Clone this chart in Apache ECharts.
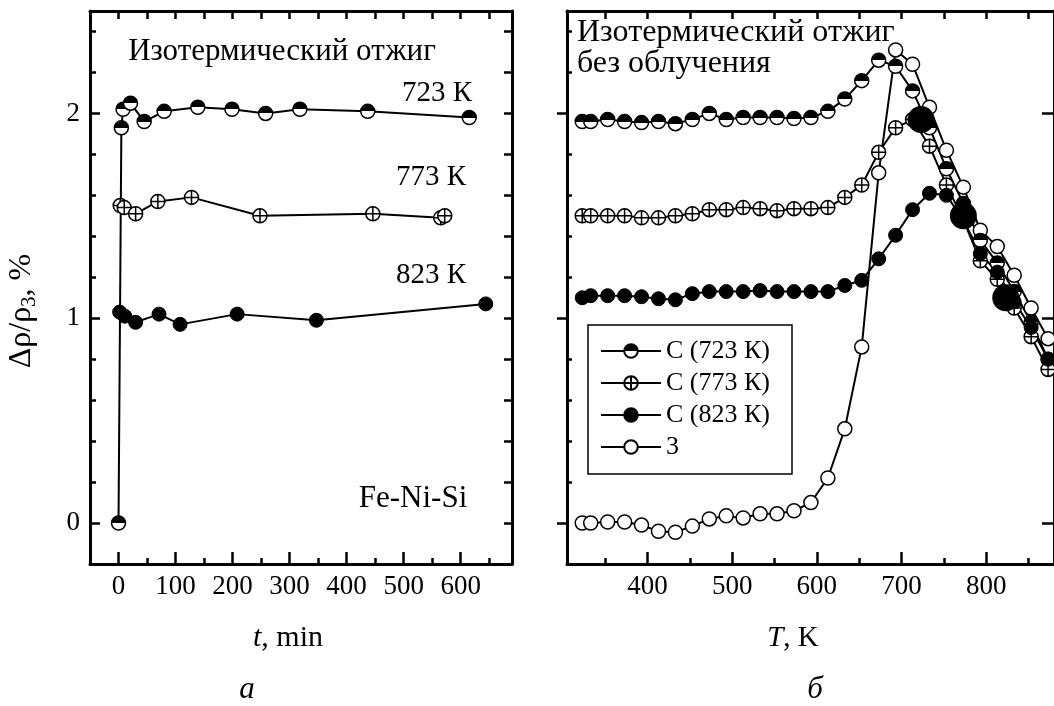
<!DOCTYPE html>
<html>
<head>
<meta charset="utf-8">
<script src="https://cdn.jsdelivr.net/npm/echarts@6/dist/echarts.min.js"></script>
<style>
  html, body { margin: 0; padding: 0; background: #fff; }
  #chart { width: 1054px; height: 706px; }
</style>
</head>
<body>
<div id="chart"></div>
<script>
// --- панель а: изотермический отжиг, t (min) ---
const time723 = [0, 5, 8, 21, 45, 80, 139, 199, 258, 318, 437, 615];
const rho723 = [0, 1.93, 2.02, 2.05, 1.96, 2.01, 2.03, 2.02, 2.0, 2.02, 2.01, 1.98];
const time773 = [3, 10, 30, 69, 128, 248, 446, 565, 572];
const rho773 = [1.55, 1.54, 1.51, 1.57, 1.59, 1.5, 1.51, 1.49, 1.5];
const time823 = [2, 11, 30, 71, 108, 208, 347, 644];
const rho823 = [1.03, 1.01, 0.98, 1.02, 0.97, 1.02, 0.99, 1.07];

// --- панель б: T (K) ---
const tempK = [323, 333, 353, 373, 393, 413, 433, 453, 473, 493, 513, 533, 553, 573, 593,
  613, 633, 653, 673, 693, 713, 733, 753, 773, 793, 813, 833, 853, 873];
const rhoC723 = [1.96, 1.96, 1.97, 1.96, 1.955, 1.96, 1.95, 1.97, 2.0, 1.97, 1.98, 1.98, 1.98, 1.975, 1.98,
  2.01, 2.07, 2.16, 2.26, 2.23, 2.11, 1.93, 1.73, 1.56, 1.38, 1.27, 1.13, 0.98, 0.8];
const rhoC773 = [1.5, 1.5, 1.5, 1.5, 1.49, 1.49, 1.5, 1.51, 1.53, 1.53, 1.54, 1.535, 1.525, 1.535, 1.535,
  1.54, 1.59, 1.65, 1.81, 1.93, 1.97, 1.84, 1.65, 1.48, 1.28, 1.19, 1.05, 0.91, 0.75];
const rhoC823 = [1.1, 1.11, 1.11, 1.11, 1.105, 1.095, 1.09, 1.12, 1.13, 1.13, 1.13, 1.135, 1.13, 1.13, 1.13,
  1.13, 1.16, 1.185, 1.29, 1.405, 1.53, 1.61, 1.6, 1.48, 1.315, 1.225, 1.08, 0.955, 0.8];
const rho3 = [0, 0, 0.005, 0.005, -0.01, -0.04, -0.045, -0.015, 0.02, 0.035, 0.025, 0.045, 0.045, 0.06, 0.1,
  0.22, 0.46, 0.86, 1.71, 2.31, 2.24, 2.03, 1.82, 1.64, 1.43, 1.35, 1.21, 1.05, 0.9];
// температуры отжига (большие точки)
const annealT = [723, 773, 823];
const annealRho = [1.97, 1.5, 1.1];

// ticks
const tMajor = [0, 100, 200, 300, 400, 500, 600];
const tMinor = [50, 150, 250, 350, 450, 550, 650];
const tTop = [0, 50, 100, 150, 200, 250, 300, 350, 400, 450, 500, 550, 600, 650];
const TMajor = [400, 500, 600, 700, 800];
const TMinor = [350, 450, 550, 650, 750, 850];
const TTop = [350, 400, 450, 500, 550, 600, 650, 700, 750, 800, 850];
const yMajor = [0, 1, 2];
const yMinor = [0.2, 0.4, 0.6, 0.8, 1.2, 1.4, 1.6, 1.8, 2.2, 2.4];
const yAll = yMajor.concat(yMinor);

const FONT = "'Liberation Serif', 'Times New Roman', serif";

const chart = echarts.init(document.getElementById("chart"));

function pts(xs, ys) {
  return xs.map((x, i) => [x, ys[i]]);
}

// one axis; everything off unless asked
function axis(o) {
  const a = {
    type: "value",
    gridIndex: o.grid,
    position: o.pos,
    min: o.min,
    max: o.max,
    splitLine: { show: false },
    axisLine: {
      show: !!o.line,
      onZero: false,
      lineStyle: { color: "#000", width: 3 },
    },
    axisTick: {
      show: !!o.ticks,
      inside: o.inside !== false,
      length: o.len || 8,
      customValues: o.ticks,
      lineStyle: { color: "#000", width: 2.5 },
    },
    axisLabel: { show: false },
  };
  if (o.labels) {
    a.axisLabel = {
      show: true,
      customValues: o.labels,
      margin: o.margin || 10,
      color: "#000",
      fontFamily: FONT,
      fontSize: 27,
    };
  }
  return a;
}

const halfFill = {
  type: "linear", x: 0, y: 0, x2: 0, y2: 1,
  colorStops: [
    { offset: 0, color: "#000" },
    { offset: 0.5, color: "#000" },
    { offset: 0.5, color: "#fff" },
    { offset: 1, color: "#fff" },
  ],
};
const crossPath = "path://M10,0A10,10,0,1,1,10,20A10,10,0,1,1,10,0ZM0,10L20,10M10,0L10,20";

const marks = {
  half: { symbol: "circle", itemStyle: { color: halfFill, borderColor: "#000", borderWidth: 1.5 } },
  cross: { symbol: crossPath, itemStyle: { color: "#fff", borderColor: "#000", borderWidth: 1.5 } },
  full: { symbol: "circle", itemStyle: { color: "#000", borderColor: "#000", borderWidth: 1 } },
  open: { symbol: "circle", itemStyle: { color: "#fff", borderColor: "#000", borderWidth: 1.5 } },
};

function line(name, data, mark, xi, yi) {
  return {
    name: name,
    type: "line",
    xAxisIndex: xi,
    yAxisIndex: yi,
    data: data,
    symbol: marks[mark].symbol,
    symbolSize: 14,
    showSymbol: true,
    itemStyle: marks[mark].itemStyle,
    lineStyle: { color: "#000", width: 2 },
    emphasis: { disabled: true },
    animation: false,
  };
}

function txt(x, y, text, size, align) {
  return {
    type: "text",
    x: x,
    y: y,
    silent: true,
    style: {
      text: text,
      fill: "#000",
      fontFamily: FONT,
      fontSize: size,
      align: align || "center",
      verticalAlign: "middle",
      rich: { i: { fontStyle: "italic", fontFamily: FONT, fontSize: size } },
    },
  };
}

const gridL = { left: 90, top: 11, width: 422, height: 553 };
const gridR = { left: 567, top: 11, right: -2, height: 553 };

const option = {
  animation: false,
  backgroundColor: "#fff",
  grid: [gridL, gridL, gridR, gridR],
  xAxis: [
    axis({ grid: 0, pos: "bottom", min: -50, max: 690, line: true, ticks: tMajor, len: 12, labels: tMajor, margin: 9 }),
    axis({ grid: 0, pos: "top", min: -50, max: 690, line: true, ticks: tTop, len: 8 }),
    axis({ grid: 1, pos: "bottom", min: -50, max: 690, ticks: tMinor, len: 6 }),
    axis({ grid: 2, pos: "bottom", min: 305, max: 880, line: true, ticks: TMajor, len: 12, labels: TMajor, margin: 9 }),
    axis({ grid: 2, pos: "top", min: 305, max: 880, line: true, ticks: TTop, len: 8 }),
    axis({ grid: 3, pos: "bottom", min: 305, max: 880, ticks: TMinor, len: 6 }),
  ],
  yAxis: [
    axis({ grid: 0, pos: "left", min: -0.2, max: 2.5, line: true, ticks: yMajor, len: 10, labels: yMajor, margin: 10 }),
    axis({ grid: 0, pos: "right", min: -0.2, max: 2.5, line: true, ticks: yAll, len: 8 }),
    axis({ grid: 1, pos: "left", min: -0.2, max: 2.5, ticks: yMinor, len: 6 }),
    axis({ grid: 2, pos: "left", min: -0.2, max: 2.5, line: true, ticks: yMajor, len: 10, inside: false }),
    axis({ grid: 2, pos: "right", min: -0.2, max: 2.5, line: true, ticks: yMajor, len: 12 }),
    axis({ grid: 3, pos: "left", min: -0.2, max: 2.5, ticks: yMinor, len: 5 }),
  ],
  legend: {
    data: ["С (723 К)", "С (773 К)", "С (823 К)", "3"],
    orient: "vertical",
    left: 588,
    top: 325,
    padding: [13, 22, 14, 12],
    itemWidth: 60,
    itemHeight: 17,
    itemGap: 6,
    selectedMode: false,
    backgroundColor: "#fff",
    borderColor: "#000",
    borderWidth: 1.5,
    borderRadius: 0,
    textStyle: { color: "#000", fontFamily: FONT, fontSize: 26 },
  },
  series: [
    line("723 К, t", pts(time723, rho723), "half", 0, 0),
    line("773 К, t", pts(time773, rho773), "cross", 0, 0),
    line("823 К, t", pts(time823, rho823), "full", 0, 0),
    line("3", pts(tempK, rho3), "open", 3, 3),
    line("С (723 К)", pts(tempK, rhoC723), "half", 3, 3),
    line("С (773 К)", pts(tempK, rhoC773), "cross", 3, 3),
    line("С (823 К)", pts(tempK, rhoC823), "full", 3, 3),
    {
      name: "T отжига",
      type: "scatter",
      xAxisIndex: 3,
      yAxisIndex: 3,
      data: pts(annealT, annealRho),
      symbol: "circle",
      symbolSize: 27,
      itemStyle: { color: "#000", opacity: 1 },
      emphasis: { disabled: true },
      z: 5,
    },
  ],
  graphic: [
    txt(282, 52, "Изотермический отжиг", 31),
    txt(437, 93, "723 К", 29),
    txt(431, 177, "773 К", 29),
    txt(431, 275, "823 К", 29),
    txt(413, 499, "Fe-Ni-Si", 31),
    txt(577, 33, "Изотермический отжиг", 32, "left"),
    txt(577, 64, "без облучения", 32, "left"),
    txt(288, 638, "{i|t}, min", 30),
    txt(793, 638, "{i|T}, K", 29),
    txt(247, 690, "{i|а}", 31),
    txt(815, 690, "{i|б}", 31),
    {
      type: "text",
      x: 22,
      y: 311,
      rotation: Math.PI / 2,
      silent: true,
      style: {
        text: "Δρ/ρ{s|3}, %",
        fill: "#000",
        fontFamily: FONT,
        fontSize: 32,
        align: "center",
        verticalAlign: "middle",
        rich: { s: { fontFamily: FONT, fontSize: 21, padding: [15, 0, 0, 0] } },
      },
    },
  ],
};

chart.setOption(option);

window.addEventListener("resize", () => chart.resize());
</script>
</body>
</html>
